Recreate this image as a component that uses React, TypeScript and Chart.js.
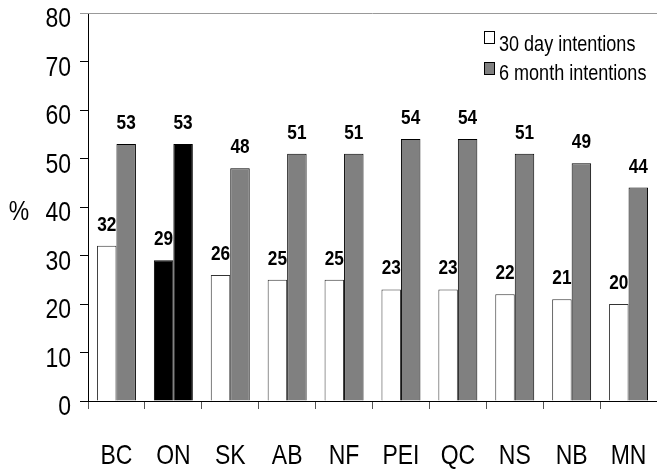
import React, { useEffect, useRef } from "react";
import { Chart, registerables } from "chart.js";

Chart.register(...registerables);

// Provinces along the x axis
const provinces = ["BC", "ON", "SK", "AB", "NF", "PEI", "QC", "NS", "NB", "MN"];
// Percent of respondents intending to act within 30 days
const thirtyDay = [32, 29, 26, 25, 25, 23, 23, 22, 21, 20];
// Percent of respondents intending to act within 6 months
const sixMonth = [53, 53, 48, 51, 51, 54, 54, 51, 49, 44];
const seriesNames = ["30 day intentions", "6 month intentions"];
const highlighted = "ON";
const yMin = 0;
const yMax = 80;
const yStep = 10;
const yTitle = "%";

// Liberation Sans squeezed horizontally gives a narrow grotesque look
const FONT = '"Liberation Sans", Arial, sans-serif';
const NARROW = 0.82;
const GRAY = "#808080";

function narrowText(
  ctx: CanvasRenderingContext2D,
  text: string,
  x: number,
  y: number,
  font: string,
  align: CanvasTextAlign
) {
  ctx.save();
  ctx.translate(x, y);
  ctx.scale(NARROW, 1);
  ctx.font = font;
  ctx.textAlign = align;
  ctx.textBaseline = "alphabetic";
  ctx.fillStyle = "#000";
  ctx.fillText(text, 0, 0);
  ctx.restore();
}

const overlay = {
  id: "overlay",
  afterDatasetsDraw(chart: any) {
    const ctx = chart.ctx as CanvasRenderingContext2D;
    const { left, right, bottom } = chart.chartArea;
    const x = chart.scales.x;
    const y = chart.scales.y;
    ctx.save();

    // top frame line at the axis maximum
    ctx.strokeStyle = "#999999";
    ctx.lineWidth = 1;
    const yt = Math.round(y.getPixelForValue(yMax)) + 0.5;
    ctx.beginPath();
    ctx.moveTo(left, yt);
    ctx.lineTo(right, yt);
    ctx.stroke();

    // y tick labels
    for (let v = yMin; v <= yMax; v += yStep) {
      narrowText(ctx, String(v), 71, y.getPixelForValue(v) + 14, `28px ${FONT}`, "right");
    }
    // x category labels
    provinces.forEach((p, i) => {
      narrowText(ctx, p, x.getPixelForValue(i), bottom + 63, `28px ${FONT}`, "center");
    });
    // axis title
    narrowText(ctx, yTitle, 19, y.getPixelForValue(40) + 13, `28px ${FONT}`, "center");

    // value labels above each bar
    chart.data.datasets.forEach((ds: any, di: number) => {
      const meta = chart.getDatasetMeta(di);
      meta.data.forEach((bar: any, i: number) => {
        narrowText(ctx, String(ds.data[i]), bar.x, bar.y - 15, `bold 21px ${FONT}`, "center");
      });
    });

    // legend
    const fills = ["#ffffff", GRAY];
    const boxTops = [31, 62];
    const baselines = [51, 80];
    seriesNames.forEach((name, i) => {
      ctx.fillStyle = fills[i];
      ctx.fillRect(484, boxTops[i], 10, 12);
      ctx.strokeStyle = "#000";
      ctx.lineWidth = 1;
      ctx.strokeRect(484.5, boxTops[i] + 0.5, 10, 12);
      narrowText(ctx, name, 499, baselines[i], `22px ${FONT}`, "left");
    });
    ctx.restore();
  },
};

export default function App() {
  const ref = useRef<HTMLCanvasElement>(null);

  useEffect(() => {
    if (!ref.current) return;
    const isHi = (p: string) => p === highlighted;
    const chart = new Chart(ref.current, {
      type: "bar",
      data: {
        labels: provinces,
        datasets: [
          {
            label: seriesNames[0],
            data: thirtyDay,
            backgroundColor: provinces.map((p) => (isHi(p) ? "#000000" : "#ffffff")),
            borderColor: provinces.map((p) => (isHi(p) ? "#000000" : "#333333")),
            borderWidth: 1,
          },
          {
            label: seriesNames[1],
            data: sixMonth,
            backgroundColor: provinces.map((p) => (isHi(p) ? "#000000" : GRAY)),
            borderColor: "#000000",
            borderWidth: 1,
          },
        ],
      },
      options: {
        responsive: false,
        animation: false,
        devicePixelRatio: 1,
        layout: { padding: { top: 13, right: 0, bottom: 0, left: 0 } },
        datasets: { bar: { barPercentage: 1, categoryPercentage: 0.685 } },
        plugins: { legend: { display: false }, tooltip: { enabled: false } },
        scales: {
          x: {
            grid: {
              offset: true,
              drawOnChartArea: false,
              drawTicks: true,
              tickLength: 8,
              color: "#555555",
            },
            border: { display: true, color: "#000000", width: 1 },
            ticks: {
              color: "rgba(0,0,0,0)",
              font: { family: FONT, size: 12 },
              maxRotation: 0,
              autoSkip: false,
            },
            afterFit: (s: any) => {
              s.height = 68;
              s.paddingLeft = 0;
              s.paddingRight = 0;
            },
          },
          y: {
            min: yMin,
            max: yMax,
            grid: {
              drawOnChartArea: false,
              drawTicks: true,
              tickLength: 8,
              color: (c: any) => (c.tick && c.tick.value === yMax ? "#999999" : "#000000"),
            },
            border: { display: true, color: "#000000", width: 1 },
            ticks: {
              stepSize: yStep,
              color: "rgba(0,0,0,0)",
              font: { family: FONT, size: 12 },
            },
            afterFit: (s: any) => {
              s.width = 88;
              s.paddingTop = 0;
              s.paddingBottom = 0;
            },
          },
        },
      },
      plugins: [overlay],
    });
    return () => chart.destroy();
  }, []);

  return (
    <div style={{ position: "absolute", left: 0, top: 0, width: 657, height: 469, background: "#fff" }}>
      <canvas ref={ref} width={657} height={469} style={{ display: "block" }} />
    </div>
  );
}
